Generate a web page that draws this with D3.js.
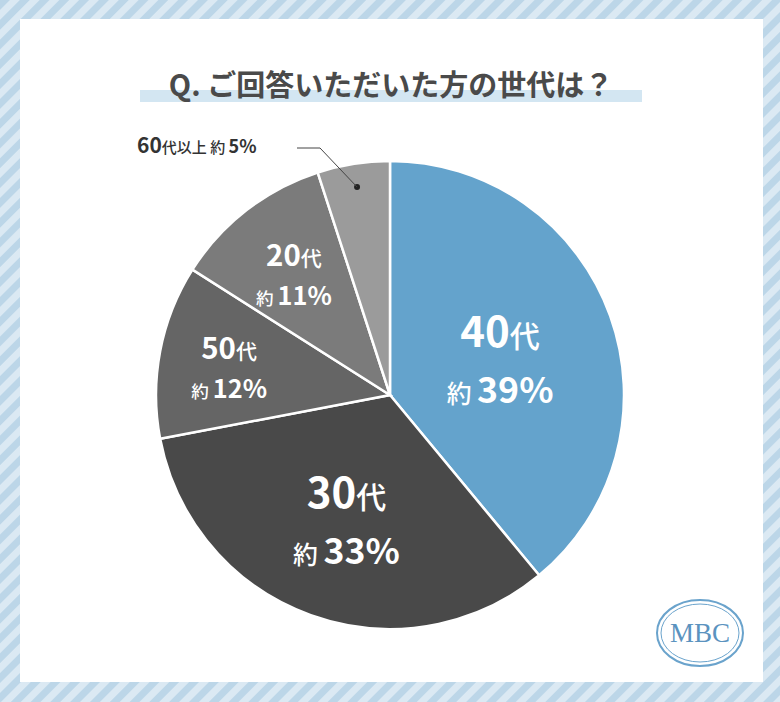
<!DOCTYPE html>
<html><head><meta charset="utf-8">
<script src="https://cdn.jsdelivr.net/npm/d3@7"></script>
<style>body{margin:0}svg{display:block}</style>
</head><body>
<script>
const categories = ["40代","30代","50代","20代","60代以上"];
const values = [39,33,12,11,5];
const colors = ["#64a3cc","#494949","#656565","#7b7b7b","#9b9b9b"];
const title = "Q. ご回答いただいた方の世代は？";

const W=780,H=702;
const svg=d3.select("body").append("svg").attr("width",W).attr("height",H);
const defs=svg.append("defs");
const pat=defs.append("pattern").attr("id","st").attr("patternUnits","userSpaceOnUse")
 .attr("width",14).attr("height",14).attr("patternTransform","rotate(45)");
pat.append("rect").attr("width",14).attr("height",14).attr("fill","#dbe9f3");
pat.append("rect").attr("width",7).attr("height",14).attr("fill","#bcd6e8");
svg.append("rect").attr("width",W).attr("height",H).attr("fill","url(#st)");
svg.append("rect").attr("x",20).attr("y",19).attr("width",743).attr("height",663).attr("fill","#fff");

svg.append("rect").attr("x",140).attr("y",90).attr("width",502).attr("height",12).attr("fill","#d3e6f2");
svg.append("text").attr("x",391).attr("y",96).attr("text-anchor","middle")
 .attr("font-family","'Noto Sans CJK JP'").attr("font-weight",700).attr("font-size",29)
 .attr("fill","#4a4a4a").text(title);

const cx=390,cy=395,r=234;
const pie=d3.pie().sort(null).value(d=>d)(values);
const arc=d3.arc().innerRadius(0).outerRadius(r);
const g=svg.append("g").attr("transform",`translate(${cx},${cy})`);
g.selectAll("path").data(pie).join("path").attr("d",arc)
 .attr("fill",(d,i)=>colors[i]).attr("stroke","#fff").attr("stroke-width",2.5);

const num="'Liberation Sans Narrow','Noto Sans CJK JP'";
const jp="'Noto Sans CJK JP'";
const lr=[0.5,0.55,0.7,0.67];
const sizes=[[40,31],[40,31],[28,22],[28,22]];
pie.slice(0,4).forEach((d,i)=>{
  const a=(d.startAngle+d.endAngle)/2, rr=r*lr[i];
  const x=Math.sin(a)*rr, y=-Math.cos(a)*rr;
  const [s1,s2]=sizes[i];
  const t1=g.append("text").attr("x",x).attr("y",y-s1*0.2).attr("text-anchor","middle").attr("fill","#fff").attr("font-weight",700);
  t1.append("tspan").attr("font-family",num).attr("font-size",s1*1.05).text(categories[i].replace("代",""));
  t1.append("tspan").attr("font-family",jp).attr("font-size",s1*0.75).attr("font-weight",500).text("代");
  const t2=g.append("text").attr("x",x).attr("y",y+s1*1.2).attr("text-anchor","middle").attr("fill","#fff").attr("font-weight",700);
  t2.append("tspan").attr("font-family",jp).attr("font-size",s2*0.8).attr("font-weight",500).text("約 ");
  t2.append("tspan").attr("font-family",num).attr("font-size",s2*1.15).text(values[i]+"%");
});
// 60代 callout
const d5=pie[4], a5=(d5.startAngle+d5.endAngle)/2;
const px=Math.sin(a5)*r*0.9, py=-Math.cos(a5)*r*0.9;
g.append("circle").attr("cx",px).attr("cy",py).attr("r",3).attr("fill","#222");
g.append("polyline").attr("points",`${px},${py} ${320-cx},${148-cy} ${297-cx},${148-cy}`)
 .attr("fill","none").attr("stroke","#444").attr("stroke-width",1);
const t5=svg.append("text").attr("x",137).attr("y",153).attr("fill","#333").attr("font-weight",700);
t5.append("tspan").attr("font-family",num).attr("font-size",21).text("60");
t5.append("tspan").attr("font-family",jp).attr("font-size",15).attr("font-weight",500).text("代以上 約 ");
t5.append("tspan").attr("font-family",num).attr("font-size",18).text(values[4]+"%");

// logo
const lg=svg.append("g").attr("transform","translate(700,633)");
lg.append("ellipse").attr("rx",43).attr("ry",33).attr("fill","none").attr("stroke","#6aa3cc").attr("stroke-width",2);
lg.append("ellipse").attr("rx",39).attr("ry",29).attr("fill","none").attr("stroke","#6aa3cc").attr("stroke-width",1);
lg.append("text").attr("y",9).attr("text-anchor","middle").attr("font-family","'Liberation Serif'")
 .attr("font-size",27).attr("fill","#5b93bf").text("MBC");
</script>
</body></html>
